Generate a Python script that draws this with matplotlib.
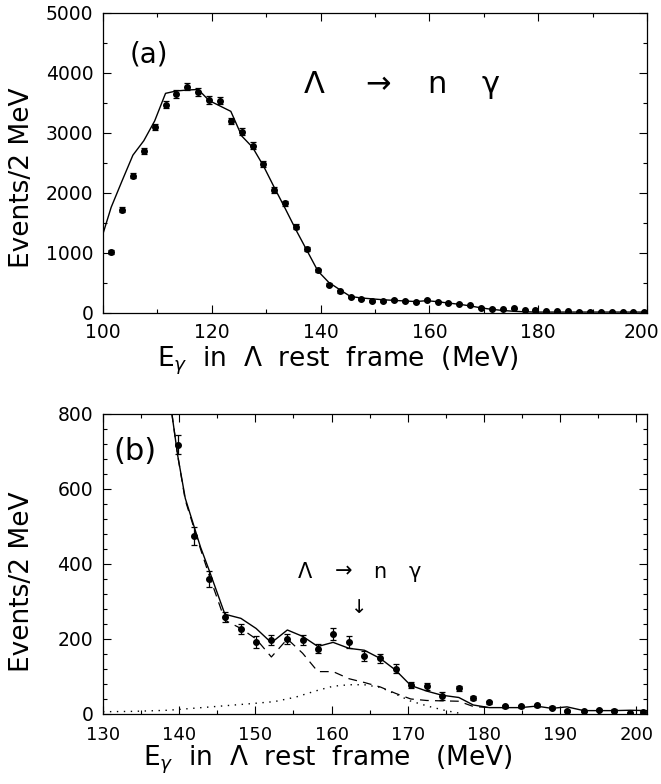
import matplotlib
matplotlib.use("Agg")
import matplotlib.pyplot as plt
from matplotlib.ticker import MultipleLocator, FixedFormatter

# ---- panel (a): data points (bin centres, events/2 MeV, errors)
ea_x = [101.5, 103.5, 105.5, 107.5, 109.5, 111.5, 113.5, 115.5, 117.5, 119.5,
        121.5, 123.5, 125.5, 127.5, 129.5, 131.5, 133.5, 135.5, 137.5, 139.5,
        141.5, 143.5, 145.5, 147.5, 149.5, 151.5, 153.5, 155.5, 157.5, 159.5,
        161.5, 163.5, 165.5, 167.5, 169.5, 171.5, 173.5, 175.5, 177.5, 179.5,
        181.5, 183.5, 185.5, 187.5, 189.5, 191.5, 193.5, 195.5, 197.5, 199.5]
ea_y = [1010, 1720, 2290, 2700, 3100, 3470, 3650, 3770, 3680, 3550,
        3540, 3200, 3020, 2790, 2480, 2050, 1830, 1440, 1060, 710,
        470, 360, 260, 232, 203, 198, 212, 196, 184, 222,
        190, 165, 155, 125, 84, 72, 58, 78, 48, 48,
        28, 25, 25, 22, 22, 20, 20, 18, 18, 18]
ea_err = [32, 41, 48, 52, 56, 59, 60, 61, 61, 60,
          60, 57, 55, 53, 50, 45, 43, 38, 33, 27,
          22, 19, 16, 15, 14, 14, 14, 14, 14, 15,
          14, 13, 12, 11, 9, 8, 8, 9, 7, 7,
          5, 5, 5, 5, 5, 4, 4, 4, 4, 4]

# ---- panel (a): Monte Carlo curve
ma_x = [100, 101.5, 103.5, 105.5, 107.5, 109.5, 111.5, 113.5, 115.5, 117.5,
        119.5, 121.5, 123.5, 125.5, 127.5, 129.5, 131.5, 133.5, 135.5, 137.5,
        139.5, 141.5, 143.5, 145.5, 147.5, 149.5, 151.5, 153.5, 155.5, 157.5,
        159.5, 161.5, 163.5, 165.5, 167.5, 169.5, 171.5, 173.5, 175.5, 177.5,
        179.5, 185.5, 191.5, 199.5, 200]
ma_y = [1320, 1760, 2200, 2630, 2870, 3200, 3660, 3700, 3715, 3725,
        3540, 3450, 3360, 2950, 2760, 2450, 2090, 1740, 1380, 1040,
        700, 510, 390, 275, 250, 235, 220, 210, 200, 190,
        205, 188, 165, 145, 118, 85, 60, 42, 28, 20,
        15, 15, 15, 15, 15]
a_ticks = [100, 120, 140, 160, 180, 200]
a_ticklabels = ['100', '120', '140', '160', '180', '']

# ---- panel (b): data points
eb_x = [139.8, 141.9, 143.9, 146.0, 148.1, 150.1, 152.1, 154.2, 156.2, 158.2,
        160.2, 162.3, 164.3, 166.4, 168.4, 170.4, 172.5, 174.5, 176.7, 178.6,
        180.7, 182.7, 184.8, 186.9, 188.9, 190.9, 193.1, 195.1, 197.1, 199.2,
        200.9]
eb_y = [718, 475, 360, 258, 227, 192, 197, 200, 197, 174,
        213, 192, 154, 148, 120, 77, 74, 48, 68, 42,
        31, 20, 20, 23, 17, 8, 7, 11, 9, 3,
        6]
eb_err = [26, 24, 22, 14, 13, 15, 14, 14, 14, 12,
          15, 15, 13, 12, 12, 9, 9, 10, 6, 5,
          4, 4, 4, 4, 4, 3, 3, 3, 3, 2,
          3]

# ---- panel (b): total fit, background, signal
fit_x = [138.5, 139.8, 140.8, 141.8, 142.8, 143.9, 146.0, 148.1, 150.1, 152.1,
         154.2, 156.2, 158.2, 160.2, 162.3, 164.3, 166.4, 168.4, 170.4, 172.5,
         174.5, 176.7, 178.6, 180.7, 182.7, 184.8, 186.9, 188.9, 190.9, 193.1,
         195.1, 197.1, 199.2, 201.4]
fit_y = [880, 690, 575, 510, 445, 385, 266, 255, 228, 190,
         224, 207, 180, 191, 175, 170, 148, 117, 76, 61,
         50, 44, 24, 17, 17, 17, 21, 15, 19, 9,
         9, 9, 10, 9]
bkg_x = [138.5, 139.8, 140.8, 141.8, 142.8, 143.9, 146.0, 148.1, 150.1, 152.1,
         154.2, 156.2, 158.2, 160.2, 162.3, 164.3, 166.4, 168.4, 170.4, 172.5,
         174.5, 176.7, 178.6, 180.7]
bkg_y = [880, 690, 570, 505, 440, 372, 250, 228, 200, 152,
         200, 162, 113, 113, 94, 84, 72, 55, 40, 36,
         35, 34, 20, 17]
sig_x = [130, 134, 138.6, 144.2, 149.7, 152.5, 155.3, 158.0, 160.2, 162.3,
         164.3, 166.4, 168.1, 170.3, 172.8, 175.0, 176.8]
sig_y = [6, 7, 10, 19, 28, 33, 45, 62, 74, 78,
         78, 71, 56, 35, 20, 9, 2]

FS_TICK = 13.5
FS_LAB = 19

fig = plt.figure(figsize=(6.61, 7.84), dpi=100)
ax1 = fig.add_axes([0.1558, 0.6008, 0.823, 0.3827])
ax2 = fig.add_axes([0.1558, 0.0893, 0.823, 0.3827])


def style(ax):
    for s in ax.spines.values():
        s.set_linewidth(0.9)
    ax.tick_params(which='both', direction='in', top=True, right=True,
                   labelsize=FS_TICK, width=0.8, pad=7)
    ax.tick_params(which='major', length=6)
    ax.tick_params(which='minor', length=3)


# panel (a)
ax1.plot(ma_x, ma_y, color='black', lw=1.0)
ax1.errorbar(ea_x, ea_y, yerr=ea_err, fmt='o', color='black', ms=4,
             elinewidth=0.9, capsize=2, capthick=0.9)
ax1.set_xlim(100, 200)
ax1.set_ylim(0, 5000)
ax1.set_xticks(a_ticks)
ax1.xaxis.set_major_formatter(FixedFormatter(a_ticklabels))
ax1.xaxis.set_minor_locator(MultipleLocator(10))
ax1.yaxis.set_major_locator(MultipleLocator(1000))
ax1.yaxis.set_minor_locator(MultipleLocator(500))
style(ax1)
# last label of (a) pulled in so it stays inside the figure
ax1.annotate('200', xy=(200, 0), xycoords=('data', 'axes fraction'),
             xytext=(-4, -7), textcoords='offset points',
             ha='center', va='top', fontsize=FS_TICK)
ax1.text(108.5, 4300, '(a)', fontsize=20, ha='center', va='center')
for xx, ch in [(138.8, 'Λ'), (150.6, '→'), (161.4, 'n'), (171.3, 'γ')]:
    ax1.text(xx, 3670, ch, fontsize=22, ha='center', va='baseline')

# panel (b)
ax2.plot(sig_x, sig_y, color='black', lw=1.0, linestyle=(0, (1, 4)))
ax2.plot(bkg_x, bkg_y, color='black', lw=0.9, linestyle=(0, (7, 5)))
ax2.plot(fit_x, fit_y, color='black', lw=1.0)
ax2.errorbar(eb_x, eb_y, yerr=eb_err, fmt='o', color='black', ms=4,
             elinewidth=0.9, capsize=2.5, capthick=0.9)
ax2.set_xlim(130, 201.4)
ax2.set_ylim(0, 800)
ax2.xaxis.set_major_locator(MultipleLocator(10))
ax2.xaxis.set_minor_locator(MultipleLocator(5))
ax2.yaxis.set_major_locator(MultipleLocator(200))
ax2.yaxis.set_minor_locator(MultipleLocator(40))
style(ax2)
ax2.tick_params(axis='x', which='both', pad=8.5, labelsize=13)
ax2.text(134.2, 699, '(b)', fontsize=22, ha='center', va='center')
for xx, ch in [(156.5, 'Λ'), (161.6, '→'), (166.3, 'n'), (170.9, 'γ')]:
    ax2.text(xx, 363, ch, fontsize=15, ha='center', va='baseline')
ax2.text(163.6, 283, '↓', fontsize=14, ha='center', va='center')

# axis titles
xlab_a = r'E$_{\gamma}$  in  Λ  rest  frame  (MeV)'
xlab_b = r'E$_{\gamma}$  in  Λ  rest  frame   (MeV)'
fig.text(157 / 661, 1 - 367 / 784, xlab_a, fontsize=FS_LAB, ha='left', va='baseline')
fig.text(143 / 661, 1 - 765 / 784, xlab_b, fontsize=19, ha='left', va='baseline')
fig.text(22 / 661, 1 - 178 / 784, 'Events/2 MeV', fontsize=FS_LAB,
         rotation=90, ha='center', va='center')
fig.text(22 / 661, 1 - 582 / 784, 'Events/2 MeV', fontsize=FS_LAB,
         rotation=90, ha='center', va='center')

fig.savefig('out.png', dpi=100)
